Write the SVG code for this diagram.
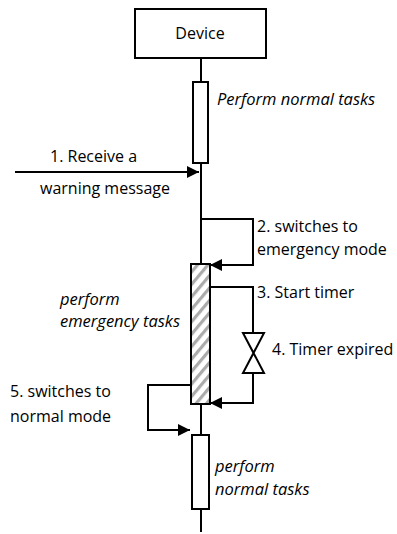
<svg xmlns="http://www.w3.org/2000/svg" width="397" height="534" viewBox="0 0 397 534">
<defs>
<style>
.t{font-family:"Open Sans",Lato,"Liberation Sans",sans-serif;font-size:16px;fill:#000}
.i{font-style:italic;font-size:16.5px}
.ln{stroke:#000;stroke-width:2;fill:none}
.box{stroke:#000;stroke-width:2;fill:#fff}
</style>
<marker id="ah" viewBox="0 0 10 10" refX="10" refY="5" markerWidth="14" markerHeight="12" markerUnits="userSpaceOnUse" orient="auto">
<path d="M0,0 L10,5 L0,10 Z" fill="#000"/>
</marker>
<pattern id="hatch" width="8" height="8" patternUnits="userSpaceOnUse" patternTransform="rotate(-50)">
<rect width="8" height="8" fill="#fff"/>
<rect width="8" height="3.2" fill="#ababab"/>
</pattern>
</defs>
<rect width="397" height="534" fill="#fff"/>
<g id="lifeline">
<line class="ln" x1="201" y1="58" x2="201" y2="532"/>
</g>
<g id="device">
<rect class="box" x="135" y="9" width="131" height="49"/>
<text class="t" x="200" y="39" text-anchor="middle">Device</text>
</g>
<g id="normal1">
<rect class="box" x="193" y="82" width="15" height="81"/>
<text class="t i" x="217" y="105">Perform normal tasks</text>
</g>
<g id="emergency">
<rect x="191" y="264" width="19" height="140" fill="url(#hatch)" stroke="#000" stroke-width="2"/>
<text class="t i" x="60" y="305">perform</text>
<text class="t i" x="60" y="327">emergency tasks</text>
</g>
<g id="normal2">
<rect class="box" x="192" y="435" width="17" height="74"/>
<text class="t i" x="215" y="472">perform</text>
<text class="t i" x="215" y="495">normal tasks</text>
</g>
<g id="timer">
<path d="M243,333 L264,333 L243,373 L264,373 Z" fill="#fff" stroke="#000" stroke-width="2" stroke-linejoin="miter"/>
</g>
<g id="connectors">
<line class="ln" x1="15" y1="172" x2="199" y2="172" marker-end="url(#ah)"/>
<polyline class="ln" points="201,219 253,219 253,265 210,265" marker-end="url(#ah)"/>
<polyline class="ln" points="210,287 253,287 253,333"/>
<polyline class="ln" points="253,373 253,403 210,403" marker-end="url(#ah)"/>
<polyline class="ln" points="191,385 148,385 148,430 190,430" marker-end="url(#ah)"/>
</g>
<g id="labels">
<text class="t" x="50" y="162">1. Receive a</text>
<text class="t" x="40" y="194">warning message</text>
<text class="t" x="257" y="232">2. switches to</text>
<text class="t" x="257" y="255">emergency mode</text>
<text class="t" x="257" y="298">3. Start timer</text>
<text class="t" x="272" y="355">4. Timer expired</text>
<text class="t" x="10" y="397">5. switches to</text>
<text class="t" x="10" y="422">normal mode</text>
</g>
</svg>
